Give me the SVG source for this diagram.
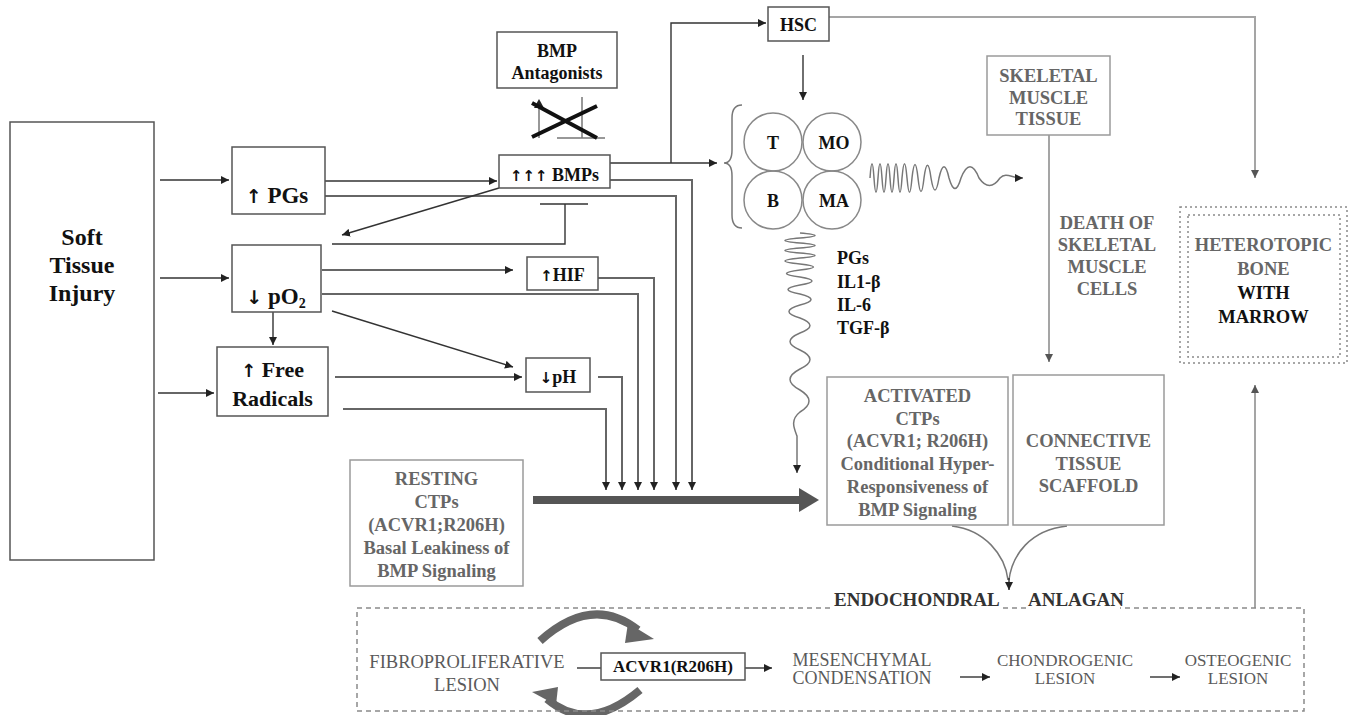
<svg xmlns="http://www.w3.org/2000/svg" width="1355" height="715" viewBox="0 0 1355 715">
<defs>
<style>
.bx{fill:#fff;stroke:#555;stroke-width:1.5}
.gbx{fill:#fff;stroke:#9a9a9a;stroke-width:1.5}
.dot{fill:none;stroke:#8a8a8a;stroke-width:1.5;stroke-dasharray:2 3}
.t{font-family:"Liberation Serif","Times New Roman",serif;font-weight:bold;fill:#111;text-anchor:middle}
.ts{font-family:"Liberation Serif","Times New Roman",serif;font-weight:bold;fill:#111;text-anchor:start}
.ar{font-family:"DejaVu Sans",sans-serif;font-weight:bold}
.g{font-family:"Liberation Serif","Times New Roman",serif;font-weight:bold;fill:#666;text-anchor:middle;font-size:18.5px}
.b{font-family:"Liberation Serif","Times New Roman",serif;fill:#5a5a5a;text-anchor:middle;font-size:17px}
.ln{fill:none;stroke:#333;stroke-width:1.4}
.vl{fill:none;stroke:#666;stroke-width:2}
.gl{fill:none;stroke:#a5a5a5;stroke-width:2}
.wv{fill:none;stroke:#777;stroke-width:1.5}
</style>
<marker id="ah" viewBox="0 0 10 10" refX="10" refY="5" markerWidth="8" markerHeight="8" markerUnits="userSpaceOnUse" orient="auto"><path d="M0,0 L10,5 L0,10 z" fill="#222"/></marker>
<marker id="ahg" viewBox="0 0 10 10" refX="10" refY="5" markerWidth="8" markerHeight="8" markerUnits="userSpaceOnUse" orient="auto"><path d="M0,0 L10,5 L0,10 z" fill="#555"/></marker>
</defs>
<rect width="1355" height="715" fill="#fff"/>

<g id="connectors">
<path class="ln" d="M160,180 H229" marker-end="url(#ah)"/>
<path class="ln" d="M160,278 H229" marker-end="url(#ah)"/>
<path class="ln" d="M158,393 H214" marker-end="url(#ah)"/>
<path class="ln" d="M273,312 V345" marker-end="url(#ah)"/>
<path class="ln" d="M325,181 H497" marker-end="url(#ah)"/>
<path class="vl" d="M325,196 H676 V490" marker-end="url(#ah)"/>
<path class="ln" d="M499,188 L342,235" marker-end="url(#ah)"/>
<path class="ln" d="M610,163 H717" marker-end="url(#ah)"/>
<path class="ln" d="M671,163 V23 H766" marker-end="url(#ah)"/>
<path class="vl" d="M610,180 H692 V490" marker-end="url(#ah)"/>
<path class="ln" d="M540,204 H588 M565,204 V244 H332"/>
<path class="ln" d="M322,270 H513" marker-end="url(#ah)"/>
<path class="vl" d="M322,294 H638 V490" marker-end="url(#ah)"/>
<path class="ln" d="M332,311 L513,367" marker-end="url(#ah)"/>
<path class="vl" d="M598,278 H654 V490" marker-end="url(#ah)"/>
<path class="ln" d="M335,377 H522" marker-end="url(#ah)"/>
<path class="vl" d="M343,409 H606 V490" marker-end="url(#ah)"/>
<path class="vl" d="M598,377 H622 V490" marker-end="url(#ah)"/>
<path d="M533,500 H801" stroke="#555" stroke-width="8" fill="none"/>
<polygon points="799,488 819,500 799,512" fill="#555"/>
<path class="ln" d="M803,55 V100" marker-end="url(#ah)"/>
<path class="gl" d="M829,17 H1255 V178" marker-end="url(#ahg)"/>
<path class="wv" marker-end="url(#ah)" d="M870,178 C871.3,159 872.7,159 874,178 C875.3,197 876.7,197 878,178 C879.3,159 880.7,159 882,178 C883.3,197 884.7,197 886,178 C887.3,159 888.7,159 890,178 C891.3,197 892.7,197 894,178 C895.3,159 896.7,159 898,178 C899.3,197 900.7,197 902,178 C903.7,159 905.3,159 907,178 C908.7,197 910.3,197 912,178 C914,160 916,160 918,178 C920,196 922,196 924,178 C926.3,161 928.7,161 931,178 C933.7,194 936.3,194 939,178 C942.3,163 945.7,163 949,178 C953,192 957,192 961,178 C967,163 973,163 979,178 C986,188 993,188 1000,178 C1006,172 1012,178 1023,178"/>
<path class="wv" marker-end="url(#ah)" d="M800,233 C820,234.7 820,236.3 800,238 C780,239.7 780,241.3 800,243 C820,244.7 820,246.3 800,248 C780,249.7 780,251.3 800,253 C820,254.7 820,256.3 800,258 C780,260 780,262 800,264 C818,266 818,268 800,270 C782,272.3 782,274.7 800,277 C816,279.7 816,282.3 800,285 C784,288 784,291 800,294 C814.7,297.7 814.7,301.3 800,305 C785.3,309.3 785.3,313.7 800,318 C813.3,323 813.3,328 800,333 C786.7,338.7 786.7,344.3 800,350 C813.3,356.3 813.3,362.7 800,369 C786.7,376 786.7,383 800,390 C812,397.3 812,404.7 800,412 C790,420 794,428 797,436 L797,473"/>
<path class="gl" d="M1049,135 V362" marker-end="url(#ahg)"/>
<path class="wv" d="M952,526 C985,530 1005,555 1008,580 M1067,526 C1030,530 1012,555 1009,580"/>
<path class="ln" d="M1009,578 V590" marker-end="url(#ah)"/>
<path class="gl" d="M1255,608 V385" marker-end="url(#ahg)"/>
<path class="ln" d="M577,668 H601"/>
<path class="ln" d="M745,668 H772" marker-end="url(#ah)"/>
<path class="ln" d="M960,677 H990" marker-end="url(#ah)"/>
<path class="ln" d="M1150,677 H1180" marker-end="url(#ah)"/>
<path d="M540,641 Q592,594 638,630" stroke="#666" stroke-width="8" fill="none"/>
<polygon points="628,623 654,639 625,643" fill="#666"/>
<path d="M640,690 Q588,734 547,699" stroke="#666" stroke-width="8" fill="none"/>
<polygon points="556,705 532,692 558,687" fill="#666"/>
</g>

<g id="soft-tissue-injury">
<rect class="bx" x="10" y="122" width="144" height="438"/>
<text class="t" font-size="24" x="82" y="245">Soft</text>
<text class="t" font-size="24" x="82" y="273">Tissue</text>
<text class="t" font-size="24" x="82" y="301">Injury</text>
</g>
<g id="pgs">
<rect class="bx" x="232" y="147" width="93" height="67"/>
<text class="t" font-size="23" x="277" y="203"><tspan class="ar" font-size="19">↑</tspan> PGs</text>
</g>
<g id="po2">
<rect class="bx" x="232" y="245" width="89" height="67"/>
<text class="t" font-size="23" x="276" y="304"><tspan class="ar" font-size="19">↓</tspan> pO<tspan font-size="14" dy="4">2</tspan></text>
</g>
<g id="free-radicals">
<rect class="bx" x="217" y="347" width="111" height="69"/>
<text class="t" font-size="22" x="272.5" y="377"><tspan class="ar" font-size="18">↑</tspan> Free</text>
<text class="t" font-size="22" x="272.5" y="406">Radicals</text>
</g>
<g id="bmp-antagonists">
<rect class="bx" x="497" y="32" width="120" height="56"/>
<text class="t" font-size="18" x="557" y="57">BMP</text>
<text class="t" font-size="18" x="557" y="79">Antagonists</text>
<path d="M539,138 V106 M582,97 V138 M557,138 H605" stroke="#777" stroke-width="1.5" fill="none"/>
<polygon points="534,108 539,99 544,108" fill="#222"/>
<path d="M532,103 L597,138 M532,137 L597,106" stroke="#111" stroke-width="4" fill="none"/>
</g>
<g id="bmps">
<rect class="bx" x="499" y="155" width="111" height="33"/>
<text class="t" font-size="18" x="554.5" y="181"><tspan class="ar" font-size="15">↑↑↑</tspan> BMPs</text>
</g>
<g id="hif">
<rect class="bx" x="527" y="257" width="71" height="33"/>
<text class="t" font-size="18" x="562.5" y="281"><tspan class="ar" font-size="15">↑</tspan>HIF</text>
</g>
<g id="ph">
<rect class="bx" x="526" y="358" width="64" height="34"/>
<text class="t" font-size="18" x="558" y="383"><tspan class="ar" font-size="15">↓</tspan>pH</text>
</g>
<g id="hsc">
<rect class="bx" x="768" y="7" width="61" height="34"/>
<text class="t" font-size="18" x="798.5" y="31">HSC</text>
</g>
<g id="blood-cells">
<path d="M742,105 Q732,105 732,118 L732,150 Q732,163 724,163 Q732,163 732,176 L732,215 Q732,228 742,228" fill="none" stroke="#777" stroke-width="1.5"/>
<circle cx="773" cy="142" r="29" fill="none" stroke="#888" stroke-width="1.5"/>
<circle cx="832" cy="142" r="29" fill="none" stroke="#888" stroke-width="1.5"/>
<circle cx="773" cy="200" r="29" fill="none" stroke="#888" stroke-width="1.5"/>
<circle cx="832" cy="200" r="29" fill="none" stroke="#888" stroke-width="1.5"/>
<text class="t" font-size="18" x="773" y="149">T</text>
<text class="t" font-size="18" x="834" y="149">MO</text>
<text class="t" font-size="18" x="773" y="207">B</text>
<text class="t" font-size="18" x="834" y="207">MA</text>
</g>
<g id="cytokines">
<text class="ts" font-size="18" x="837" y="264">PGs</text>
<text class="ts" font-size="18" x="837" y="288">IL1-β</text>
<text class="ts" font-size="18" x="837" y="311">IL-6</text>
<text class="ts" font-size="18" x="837" y="334">TGF-β</text>
</g>
<g id="skeletal-muscle-tissue">
<rect class="gbx" x="987" y="56" width="123" height="79"/>
<text class="g" x="1048.5" y="82">SKELETAL</text>
<text class="g" x="1048.5" y="104">MUSCLE</text>
<text class="g" x="1048.5" y="125">TISSUE</text>
</g>
<g id="death-label">
<text class="g" x="1107" y="229">DEATH OF</text>
<text class="g" x="1107" y="251">SKELETAL</text>
<text class="g" x="1107" y="273">MUSCLE</text>
<text class="g" x="1107" y="295">CELLS</text>
</g>
<g id="heterotopic-bone">
<rect class="dot" x="1180" y="207" width="167" height="156"/>
<rect class="dot" x="1188" y="215" width="152" height="142"/>
<text class="g" x="1263.5" y="251">HETEROTOPIC</text>
<text class="g" x="1263.5" y="275">BONE</text>
<text class="t" font-size="18.5" x="1263.5" y="299">WITH</text>
<text class="t" font-size="18.5" x="1263.5" y="323">MARROW</text>
</g>
<g id="resting-ctps">
<rect class="gbx" x="350" y="460" width="173" height="126"/>
<text class="g" x="436.5" y="485">RESTING</text>
<text class="g" x="436.5" y="508">CTPs</text>
<text class="g" x="436.5" y="531">(ACVR1;R206H)</text>
<text class="g" x="436.5" y="554">Basal Leakiness of</text>
<text class="g" x="436.5" y="577">BMP Signaling</text>
</g>
<g id="activated-ctps">
<rect class="gbx" x="827" y="377" width="181" height="148"/>
<text class="g" x="917.5" y="402">ACTIVATED</text>
<text class="g" x="917.5" y="425">CTPs</text>
<text class="g" x="917.5" y="447">(ACVR1; R206H)</text>
<text class="g" x="917.5" y="470">Conditional Hyper-</text>
<text class="g" x="917.5" y="493">Responsiveness of</text>
<text class="g" x="917.5" y="516">BMP Signaling</text>
</g>
<g id="connective-tissue-scaffold">
<rect class="gbx" x="1013" y="375" width="151" height="150"/>
<text class="g" x="1088.5" y="447">CONNECTIVE</text>
<text class="g" x="1088.5" y="470">TISSUE</text>
<text class="g" x="1088.5" y="492">SCAFFOLD</text>
</g>
<g id="endochondral-anlagan">
<path class="dot" style="stroke-dasharray:5 4" d="M830,608 H357 V711 H1304 V608 H1120 M1026,608 H1000"/>
<text class="ts" font-size="19" x="834" y="606" style="fill:#333">ENDOCHONDRAL</text>
<text class="ts" font-size="19" x="1028" y="606" style="fill:#333">ANLAGAN</text>
</g>
<g id="fibroproliferative">
<text class="b" style="font-size:18.5px" x="467" y="668">FIBROPROLIFERATIVE</text>
<text class="b" style="font-size:18.5px" x="467" y="691">LESION</text>
</g>
<g id="acvr1">
<rect class="bx" x="601" y="653" width="144" height="27"/>
<text class="t" font-size="17" x="673" y="672">ACVR1(R206H)</text>
</g>
<g id="mesenchymal">
<text class="b" x="862" y="666" style="font-size:18px">MESENCHYMAL</text>
<text class="b" x="862" y="684" style="font-size:18px">CONDENSATION</text>
</g>
<g id="chondrogenic">
<text class="b" x="1065" y="666">CHONDROGENIC</text>
<text class="b" x="1065" y="684">LESION</text>
</g>
<g id="osteogenic">
<text class="b" x="1238" y="666">OSTEOGENIC</text>
<text class="b" x="1238" y="684">LESION</text>
</g>
</svg>
